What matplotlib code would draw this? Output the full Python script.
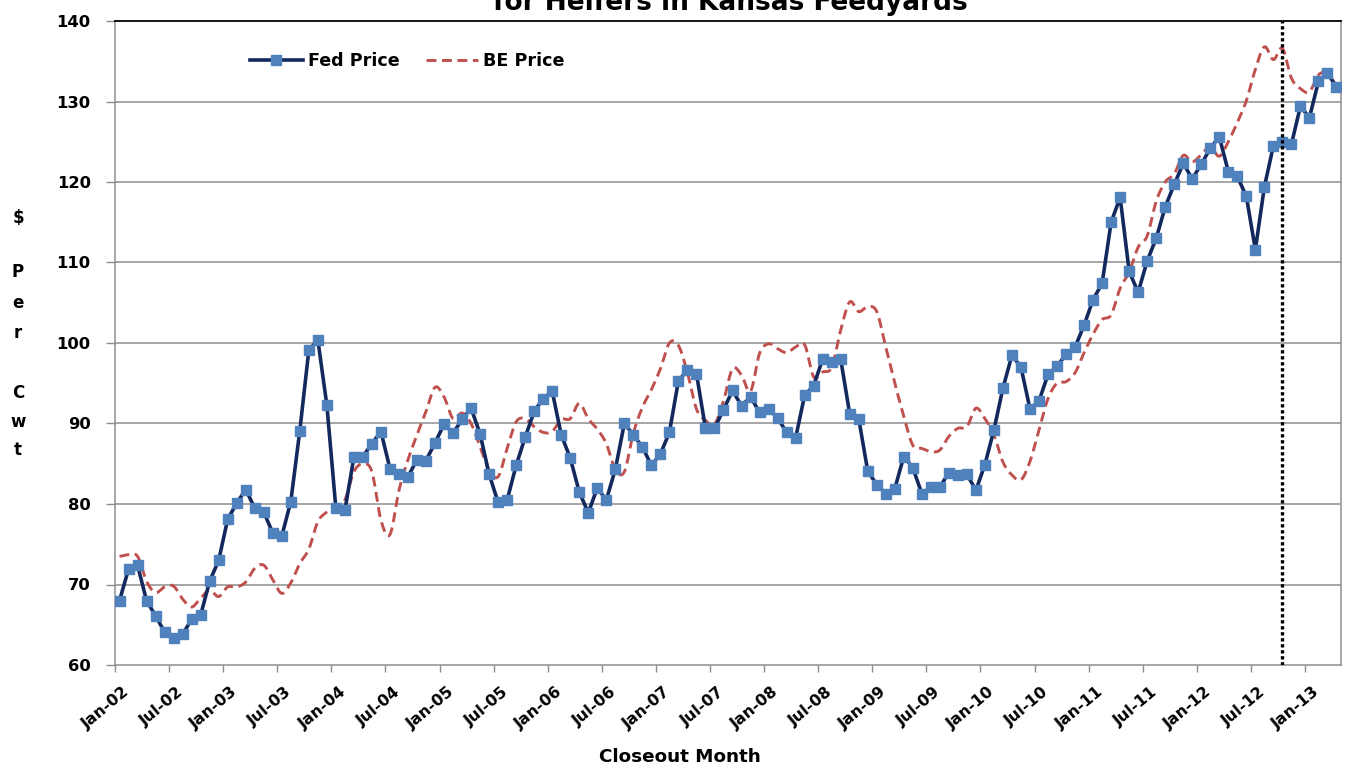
import numpy as np
import pandas as pd
import matplotlib
matplotlib.use("Agg")
import matplotlib.pyplot as plt
from matplotlib.transforms import ScaledTranslation

# ---------------- data ----------------
months = pd.date_range("2002-01-01", periods=136, freq="MS").strftime("%b-%y").tolist()

fed_price = [
    68.0, 71.9, 72.4, 68.0, 66.1, 64.1, 63.4, 63.8, 65.7, 66.2, 70.4, 73.0,
    78.1, 80.1, 81.8, 79.5, 79.0, 76.4, 76.0, 80.3, 89.1, 99.1, 100.4, 92.3,
    79.5, 79.2, 85.8, 85.9, 87.5, 89.0, 84.4, 83.7, 83.4, 85.5, 85.4, 87.6,
    89.9, 88.8, 90.5, 91.9, 88.7, 83.7, 80.2, 80.5, 84.8, 88.3, 91.5, 93.1,
    94.0, 88.6, 85.7, 81.5, 78.9, 82.0, 80.5, 84.3, 90.0, 88.6, 87.1, 84.8,
    86.2, 88.9, 95.3, 96.6, 96.2, 89.4, 89.4, 91.7, 94.1, 92.2, 93.3, 91.4,
    91.8, 90.7, 88.9, 88.2, 93.5, 94.7, 98.0, 97.7, 98.0, 91.2, 90.6, 84.1,
    82.4, 81.3, 81.9, 85.9, 84.5, 81.3, 82.1, 82.1, 83.9, 83.6, 83.7, 81.7,
    84.9, 89.2, 94.4, 98.5, 97.0, 91.8, 92.8, 96.1, 97.1, 98.6, 99.5, 102.2,
    105.4, 107.4, 115.0, 118.1, 108.9, 106.3, 110.2, 113.0, 116.9, 119.7, 122.3, 120.4,
    122.2, 124.2, 125.6, 121.3, 120.7, 118.2, 111.6, 119.4, 124.5, 125.0, 124.7, 129.4,
    128.0, 132.5, 133.5, 131.8,
]

be_price = [
    73.5, 73.7, 73.5, 70.4, 69.0, 69.7, 69.8, 68.2, 67.2, 68.3, 69.3, 68.5,
    69.7, 69.7, 70.3, 72.0, 72.4, 70.6, 68.9, 70.2, 72.6, 74.4, 77.8, 79.0,
    79.8, 80.5, 84.0, 85.0, 84.0, 78.0, 76.2, 81.7, 85.5, 88.6, 91.5, 94.5,
    93.3, 90.6, 91.3, 90.0, 87.1, 84.2, 83.4, 86.9, 90.2, 90.6, 89.6, 88.9,
    89.0, 90.5, 90.6, 92.5, 90.6, 89.3, 87.5, 84.3, 84.0, 88.8, 92.0, 94.2,
    96.8, 100.0, 99.7, 96.3, 91.8, 90.4, 89.9, 92.8, 96.8, 96.0, 94.0, 98.7,
    99.9, 99.3, 98.8, 99.5, 99.8, 95.8, 96.4, 97.0, 101.6, 105.1, 103.9, 104.5,
    103.9, 99.5, 95.0, 90.9, 87.3, 86.9, 86.5, 86.7, 88.4, 89.4, 89.6, 91.9,
    90.6, 88.6, 85.2, 83.6, 83.0, 85.3, 89.2, 93.1, 95.0, 95.2, 96.3, 98.8,
    101.1, 102.9, 103.5, 106.8, 108.8, 111.9, 113.3, 117.6, 120.0, 121.0, 123.3, 122.5,
    123.4, 124.4, 123.2, 125.0, 127.4, 130.1, 134.0, 136.8, 135.2, 136.6, 132.9, 131.6,
    131.2, 133.3, 133.5, 132.0,
]

tick_labels = ["Jan-02", "Jul-02", "Jan-03", "Jul-03", "Jan-04", "Jul-04", "Jan-05",
               "Jul-05", "Jan-06", "Jul-06", "Jan-07", "Jul-07", "Jan-08", "Jul-08",
               "Jan-09", "Jul-09", "Jan-10", "Jul-10", "Jan-11", "Jul-11", "Jan-12",
               "Jul-12", "Jan-13"]
marker_month = "Oct-12"
title_text = "for Heifers in Kansas Feedyards"

# ---------------- helpers ----------------
def smooth(xs, ys, n=12):
    """Catmull-Rom / Excel style smoothing through the data points."""
    xs = np.asarray(xs, float)
    ys = np.asarray(ys, float)
    px = np.concatenate([[xs[0]], xs, [xs[-1]]])
    py = np.concatenate([[ys[0]], ys, [ys[-1]]])
    ox, oy = [], []
    t = np.linspace(0, 1, n, endpoint=False)
    for i in range(1, len(px) - 2):
        p0, p1, p2, p3 = py[i - 1], py[i], py[i + 1], py[i + 2]
        c1 = p1 + (p2 - p0) / 6.0
        c2 = p2 - (p3 - p1) / 6.0
        yy = (1 - t) ** 3 * p1 + 3 * (1 - t) ** 2 * t * c1 + 3 * (1 - t) * t ** 2 * c2 + t ** 3 * p2
        xx = px[i] + (px[i + 1] - px[i]) * t
        ox.extend(xx)
        oy.extend(yy)
    ox.append(xs[-1])
    oy.append(ys[-1])
    return np.array(ox), np.array(oy)

# ---------------- figure ----------------
plt.rcParams["font.family"] = ["DejaVu Sans"]
plt.rcParams["font.weight"] = "bold"

W, H = 1349, 770
fig = plt.figure(figsize=(W / 100, H / 100), dpi=100)
left, right, top, bottom = 115, 1341, 21, 665
ax = fig.add_axes([left / W, 1 - bottom / H, (right - left) / W, (bottom - top) / H])

x = np.arange(len(months))
sx, sy = smooth(x, be_price)

grid_col = "#8e8e8e"
for v in range(70, 140, 10):
    ax.axhline(v, color=grid_col, lw=1.1, zorder=0)

ax.plot(sx, sy, color="#C0504D", lw=2.1, dashes=(3.4, 1.9), zorder=2, label="BE Price")
ax.plot(x, fed_price, color="#13295E", lw=2.6, marker="s", markersize=7.2,
        markerfacecolor="#4F81BD", markeredgecolor="#4F81BD", zorder=3, label="Fed Price")

ax.axvline(months.index(marker_month), color="black", lw=2.4, ls=(0, (1, 0.8)), zorder=4)

ax.set_xlim(-0.5, len(months) - 0.5)
ax.set_ylim(60, 140)
ax.set_yticks(range(60, 141, 10))
ax.tick_params(axis="y", length=6.5, width=1, color=grid_col, labelsize=11.8, pad=11)

# x ticks between categories, labels at category
ax.set_xticks([months.index(l) - 0.5 for l in tick_labels])
ax.set_xticklabels([])
ax.set_xticks([months.index(l) for l in tick_labels], minor=True)
ax.set_xticklabels(tick_labels, minor=True, rotation=40, ha="right", va="top",
                   rotation_mode="anchor", fontsize=11.3)
ax.tick_params(axis="x", which="major", length=5, width=1, color=grid_col)
ax.tick_params(axis="x", which="minor", length=0, pad=14)
off = ScaledTranslation(3 / 100, 0, fig.dpi_scale_trans)
for lab in ax.get_xticklabels(minor=True):
    lab.set_transform(lab.get_transform() + off)

for s in ["left", "bottom", "right"]:
    ax.spines[s].set_color(grid_col)
    ax.spines[s].set_linewidth(1.1)
ax.spines["top"].set_color("black")
ax.spines["top"].set_linewidth(1.3)

for lab in ax.get_yticklabels() + ax.get_xticklabels(minor=True):
    lab.set_fontweight("bold")

handles, labels = ax.get_legend_handles_labels()
leg = ax.legend(handles[::-1], labels[::-1], loc="center left",
                bbox_to_anchor=((250 - left) / (right - left), 1 - (61.5 - top) / (bottom - top)),
                ncol=2, frameon=False, fontsize=12.6, handlelength=3.0, columnspacing=1.5,
                handletextpad=0.3, borderpad=0, borderaxespad=0)
for t in leg.get_texts():
    t.set_fontweight("bold")

# title (mostly cut off at top of image, as in the original)
fig.text(730 / W, 1 - 10.5 / H, title_text, ha="center", va="baseline", fontsize=19,
         fontweight="bold")

# x label
fig.text(680 / W, 1 - 757 / H, "Closeout Month", ha="center", va="center", fontsize=13.2,
         fontweight="bold")

# stacked y label
ylab_chars = ["$", "P", "e", "r", "C", "w", "t"]
ylab_pos = [218, 272, 303, 333, 393, 422, 450]
for ch, yp in zip(ylab_chars, ylab_pos):
    fig.text(18 / W, 1 - yp / H, ch, ha="center", va="center", fontsize=12, fontweight="bold")

fig.savefig("out.png", dpi=100)
